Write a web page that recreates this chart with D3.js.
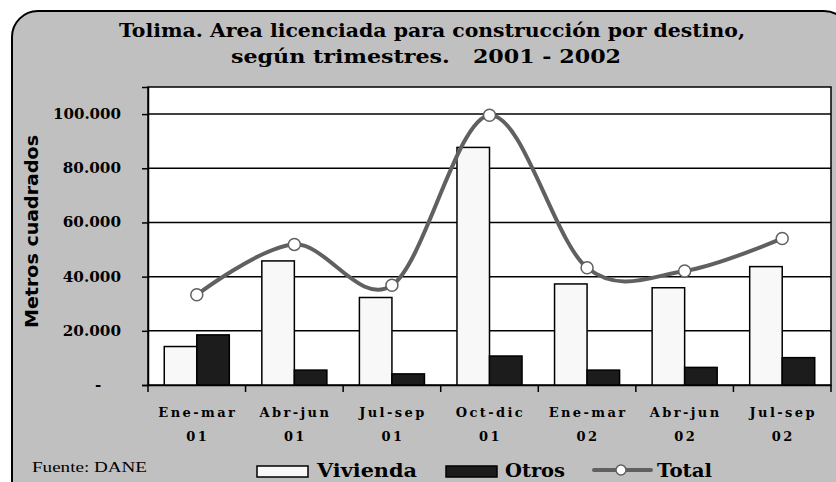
<!DOCTYPE html>
<html>
<head>
<meta charset="utf-8">
<script src="https://cdn.jsdelivr.net/npm/d3@7"></script>
<style>
  html, body { margin: 0; padding: 0; background: #ffffff; }
  svg { display: block; }
</style>
</head>
<body>
<svg id="chart" width="836" height="482"></svg>
<script>
// ---- data ----
const categories = ["Ene-mar|01", "Abr-jun|01", "Jul-sep|01", "Oct-dic|01", "Ene-mar|02", "Abr-jun|02", "Jul-sep|02"];
const vivienda = [14200, 45800, 32300, 87700, 37300, 35900, 43700];
const otros    = [18500, 5500, 4100, 10700, 5500, 6500, 10100];
const total    = [33300, 51900, 36800, 99600, 43300, 42100, 54100];
const yTicks = [0, 20000, 40000, 60000, 80000, 100000];
const yTickLabels = ["-", "20.000", "40.000", "60.000", "80.000", "100.000"];
const seriesNames = ["Vivienda", "Otros", "Total"];
const titleLines = ["Tolima. Area licenciada para construcción por destino,", "según trimestres.   2001 - 2002"];
const yTitle = "Metros cuadrados";
const source = "Fuente: DANE";

const svg = d3.select("#chart");
const W = 836, H = 482;
const serif = "'DejaVu Serif', 'Liberation Serif', serif";
const sans = "'DejaVu Sans', 'Liberation Sans', Arial, sans-serif";

function fitTo(sel, x0, x1) {
  sel.attr("textLength", x1 - x0).attr("lengthAdjust", "spacingAndGlyphs");
}

// outer panel
svg.append("rect").attr("x", 0).attr("y", 0).attr("width", W).attr("height", H).attr("fill", "#ffffff");
svg.append("rect").attr("x", 12).attr("y", 11).attr("width", 838).attr("height", 500)
  .attr("rx", 26).attr("ry", 26)
  .attr("fill", "#c0c0c0").attr("stroke", "#000").attr("stroke-width", 2);

// plot area
const plot = { left: 148, right: 831, top: 87, bottom: 385 };
const x0 = d3.scaleBand().domain(categories).range([plot.left, plot.right]).paddingInner(0).paddingOuter(0);
const bw = x0.bandwidth();
const x1 = d3.scaleBand().domain(["v", "o"]).range([bw / 6, bw * 5 / 6]).padding(0);
const y = d3.scaleLinear().domain([0, 110000]).range([plot.bottom, plot.top]);

svg.append("rect").attr("x", plot.left).attr("y", plot.top)
  .attr("width", plot.right - plot.left).attr("height", plot.bottom - plot.top)
  .attr("fill", "#ffffff").attr("stroke", "#000").attr("stroke-width", 1.5);

// gridlines
svg.append("g").selectAll("line").data(yTicks.filter(d => d > 0)).join("line")
  .attr("x1", plot.left).attr("x2", plot.right)
  .attr("y1", d => y(d)).attr("y2", d => y(d))
  .attr("stroke", "#000").attr("stroke-width", 1.5);

// y axis (ticks + domain), labels drawn separately
const yAxis = d3.axisLeft(y).tickValues(yTicks).tickFormat("").tickSize(6);
const gy = svg.append("g").attr("transform", `translate(${plot.left},0)`).call(yAxis);
gy.select(".domain").attr("stroke", "#000").attr("stroke-width", 1.5);
gy.selectAll(".tick line").attr("stroke", "#000").attr("stroke-width", 1.5);
gy.selectAll(".tick text").remove();

const labelRight = 121;
svg.append("g").selectAll("text").data(yTicks).join("text")
  .attr("y", d => y(d) + 5)
  .attr("font-family", serif).attr("font-weight", "bold").attr("font-size", 15)
  .attr("fill", "#000")
  .each(function (d, i) {
    const t = d3.select(this).text(yTickLabels[i]);
    const label = yTickLabels[i];
    if (label.length > 1) {
      const w = 68 * label.length / 7;
      t.attr("x", labelRight - w);
      fitTo(t, 0, w);
    } else {
      t.attr("x", 95);
    }
  });

// x axis
const xAxis = d3.axisBottom(x0).tickSize(0).tickFormat("");
const gx = svg.append("g").attr("transform", `translate(0,${plot.bottom})`).call(xAxis);
gx.select(".domain").attr("stroke", "#000").attr("stroke-width", 1.5);
gx.selectAll(".tick").remove();
const boundaries = categories.map(c => x0(c)).concat([plot.right]);
svg.append("g").selectAll("line").data(boundaries).join("line")
  .attr("x1", d => d).attr("x2", d => d)
  .attr("y1", plot.bottom).attr("y2", plot.bottom + 7)
  .attr("stroke", "#000").attr("stroke-width", 1.5);

const catLabels = svg.append("g").selectAll("text").data(categories).join("text")
  .attr("x", d => x0(d) + bw / 2)
  .attr("font-family", serif).attr("font-weight", "bold").attr("font-size", 13)
  .attr("text-anchor", "middle").attr("fill", "#000")
  .style("letter-spacing", "2.4px");
catLabels.each(function (d) {
  const parts = d.split("|");
  const t = d3.select(this);
  const cx = x0(d) + bw / 2;
  t.append("tspan").attr("x", cx + 1).attr("y", 417).text(parts[0]);
  t.append("tspan").attr("x", cx + 1).attr("y", 441).text(parts[1]);
});

// bars
const bars = svg.append("g");
categories.forEach((c, i) => {
  bars.append("rect")
    .attr("x", x0(c) + x1("v")).attr("y", y(vivienda[i]))
    .attr("width", x1.bandwidth()).attr("height", y(0) - y(vivienda[i]))
    .attr("fill", "#f8f8f8").attr("stroke", "#000").attr("stroke-width", 1.5);
  bars.append("rect")
    .attr("x", x0(c) + x1("o")).attr("y", y(otros[i]))
    .attr("width", x1.bandwidth()).attr("height", y(0) - y(otros[i]))
    .attr("fill", "#1c1c1c").attr("stroke", "#000").attr("stroke-width", 1.5);
});

// total line
const pts = categories.map((c, i) => [x0(c) + bw / 2, y(total[i])]);
svg.append("path")
  .attr("d", d3.line().curve(d3.curveCardinal.tension(0))(pts))
  .attr("fill", "none").attr("stroke", "#606060").attr("stroke-width", 4)
  .attr("stroke-linejoin", "round");
svg.append("g").selectAll("circle").data(pts).join("circle")
  .attr("cx", d => d[0]).attr("cy", d => d[1]).attr("r", 6)
  .attr("fill", "#ffffff").attr("stroke", "#606060").attr("stroke-width", 1.5);

// titles
const t1 = svg.append("text").attr("x", 119).attr("y", 37)
  .attr("font-family", serif).attr("font-weight", "bold").attr("font-size", 18)
  .attr("fill", "#000").text(titleLines[0]);
fitTo(t1, 119, 745);
const t2 = svg.append("text").attr("x", 231).attr("y", 63)
  .attr("font-family", serif).attr("font-weight", "bold").attr("font-size", 18)
  .attr("fill", "#000").attr("xml:space", "preserve").style("white-space", "pre").text(titleLines[1]);
fitTo(t2, 231, 621);

// y title
const yt = svg.append("text").attr("transform", "translate(38,328) rotate(-90)")
  .attr("text-anchor", "start").attr("font-family", sans).attr("font-weight", "bold")
  .attr("font-size", 17).attr("fill", "#000").text(yTitle);
fitTo(yt, 0, 193);

// source
const src = svg.append("text").attr("x", 32).attr("y", 472)
  .attr("font-family", "'Liberation Serif', serif").attr("font-size", 15)
  .attr("fill", "#000").text(source);
fitTo(src, 32, 147);

// legend
const lg = svg.append("g");
lg.append("rect").attr("x", 257).attr("y", 466).attr("width", 51).attr("height", 11)
  .attr("fill", "#f8f8f8").attr("stroke", "#000").attr("stroke-width", 1.5);
lg.append("rect").attr("x", 446).attr("y", 466).attr("width", 51).attr("height", 11)
  .attr("fill", "#1c1c1c").attr("stroke", "#000").attr("stroke-width", 1.5);
lg.append("line").attr("x1", 594).attr("x2", 651).attr("y1", 470).attr("y2", 470)
  .attr("stroke", "#606060").attr("stroke-width", 4).attr("stroke-linecap", "round");
lg.append("circle").attr("cx", 621).attr("cy", 470).attr("r", 5)
  .attr("fill", "#fff").attr("stroke", "#606060").attr("stroke-width", 1.5);
const legSpans = [[317, 417], [505, 565], [657, 712]];
seriesNames.forEach((n, i) => {
  const t = lg.append("text").attr("x", legSpans[i][0]).attr("y", 477)
    .attr("font-family", serif).attr("font-weight", "bold")
    .attr("font-size", 18).attr("fill", "#000").text(n);
  fitTo(t, legSpans[i][0], legSpans[i][1]);
});
</script>
</body>
</html>
